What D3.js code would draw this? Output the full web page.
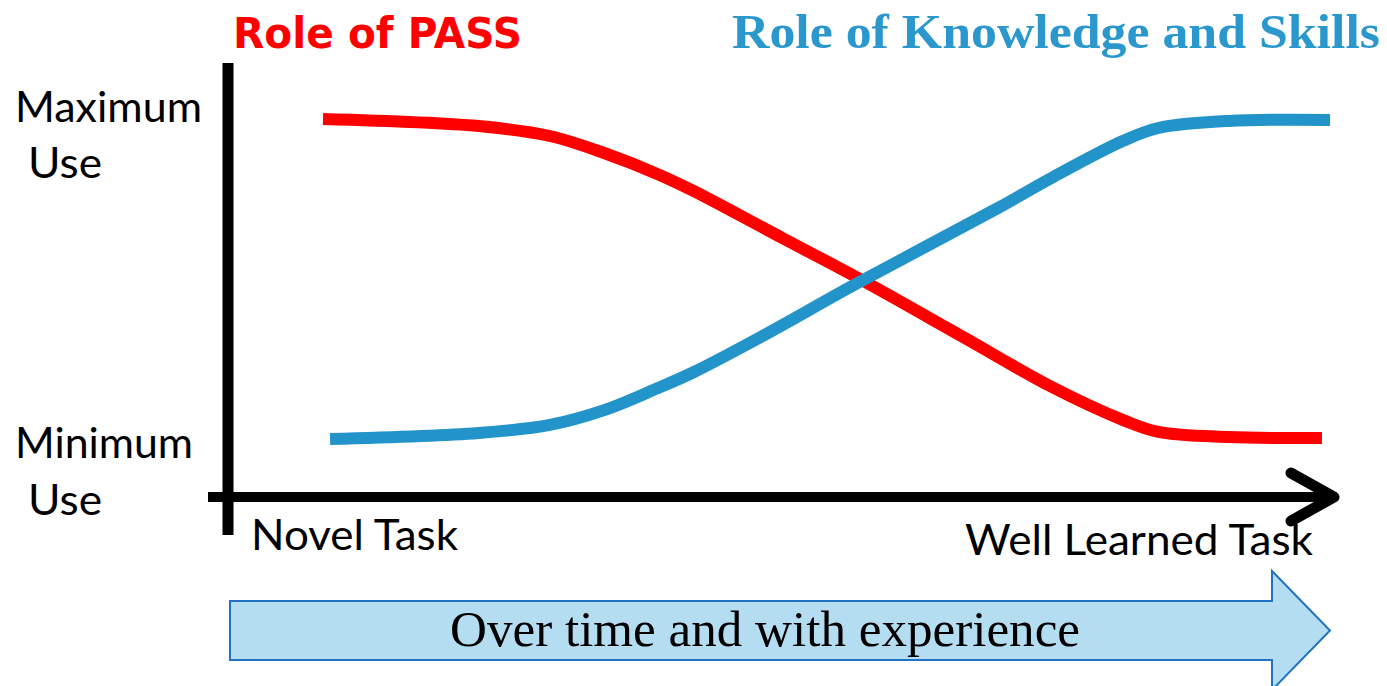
<!DOCTYPE html>
<html><head><meta charset="utf-8">
<script src="https://cdn.jsdelivr.net/npm/d3@7"></script>
<style>html,body{margin:0;padding:0;background:#fff;overflow:hidden}</style>
</head><body>
<svg id="c" width="1387" height="686"></svg>
<script>
// ---- data ----
const seriesNames = ["Role of PASS", "Role of Knowledge and Skills"];
const yLabels = [["Maximum", "Use"], ["Minimum", "Use"]];
const xLabels = ["Novel Task", "Well Learned Task"];
const bannerText = "Over time and with experience";
// experience (0-100) vs. use (0-100)
const passX = [0, 15.5, 22.6, 28, 33.3, 36.9, 45.7, 53.2, 63.8, 72.6, 79.7, 83.2, 90.2, 99.5];
const passY = [100, 97.8, 94.7, 89.4, 82.9, 77.6, 63, 50.6, 32, 16.5, 6.2, 2.5, 0.9, 0.6];
const ksX = [0.7, 15.5, 22.6, 28, 33.3, 36.9, 43.9, 53.2, 67.3, 72.6, 79.7, 83.2, 90.2, 100.3];
const ksY = [0.3, 2.2, 4.7, 9.3, 16.1, 21.1, 32.6, 48.8, 72.4, 81.7, 93.2, 97.2, 99.4, 99.7];

// ---- layout ----
const svg = d3.select("#c");
const x = d3.scaleLinear().domain([0, 100]).range([323, 1327]);
const y = d3.scaleLinear().domain([0, 100]).range([440, 119]);
const RED = "#ff0000", BLUE = "#2394ca", TBLUE = "#2a97cd";

// banner arrow
const bx0 = 230, bx1 = 1272, btip = 1330, by0 = 601, by1 = 660, hy0 = 571, hy1 = 690;
svg.append("path")
  .attr("d", `M${bx0},${by0}L${bx1},${by0}L${bx1},${hy0}L${btip},${(hy0+hy1)/2}L${bx1},${hy1}L${bx1},${by1}L${bx0},${by1}Z`)
  .attr("fill", "#b5ddf2").attr("stroke", "#2272c4").attr("stroke-width", 2);
svg.append("text").attr("x", 765).attr("y", 646).attr("text-anchor", "middle")
  .attr("font-family", "Liberation Serif").attr("font-size", 51)
  .attr("textLength", 630).attr("lengthAdjust", "spacingAndGlyphs")
  .attr("fill", "#000").text(bannerText);

// axes
const axY = 497, axX = 228;
svg.append("line").attr("x1", axX).attr("x2", axX).attr("y1", 63).attr("y2", 535)
  .attr("stroke", "#000").attr("stroke-width", 11);
svg.append("line").attr("x1", 208).attr("x2", 1333).attr("y1", axY).attr("y2", axY)
  .attr("stroke", "#000").attr("stroke-width", 10);
svg.append("path").attr("d", `M1291,${axY-24}L1334,${axY}L1291,${axY+24}`)
  .attr("fill", "none").attr("stroke", "#000").attr("stroke-width", 11)
  .attr("stroke-linecap", "round").attr("stroke-linejoin", "round");

// lines
const line = d3.line().x(d => x(d[0])).y(d => y(d[1])).curve(d3.curveCatmullRom.alpha(0.5));
svg.append("path").datum(passX.map((v, i) => [v, passY[i]])).attr("d", line)
  .attr("fill", "none").attr("stroke", RED).attr("stroke-width", 12);
svg.append("path").datum(ksX.map((v, i) => [v, ksY[i]])).attr("d", line)
  .attr("fill", "none").attr("stroke", BLUE).attr("stroke-width", 12);

// titles
svg.append("text").attr("x", 233).attr("y", 48).attr("font-family", "DejaVu Sans")
  .attr("font-weight", "bold").attr("font-size", 42).attr("fill", RED)
  .attr("textLength", 289).attr("lengthAdjust", "spacingAndGlyphs").text(seriesNames[0]);
svg.append("text").attr("x", 732).attr("y", 48).attr("font-family", "Liberation Serif")
  .attr("font-weight", "bold").attr("font-size", 49).attr("fill", TBLUE)
  .attr("textLength", 648).attr("lengthAdjust", "spacingAndGlyphs").text(seriesNames[1]);

// y labels
const lab = (t, xx, yy, w) => svg.append("text").attr("x", xx).attr("y", yy)
  .attr("font-family", "Lato").attr("font-size", 43).attr("fill", "#000")
  .attr("textLength", w).attr("lengthAdjust", "spacingAndGlyphs").text(t);
lab(yLabels[0][0], 15, 122, 187);
lab(yLabels[0][1], 28, 178, 74);
lab(yLabels[1][0], 15, 458, 178);
lab(yLabels[1][1], 28, 515, 74);
lab(xLabels[0], 251, 550, 207);
lab(xLabels[1], 965, 555, 348);
</script>
</body></html>
